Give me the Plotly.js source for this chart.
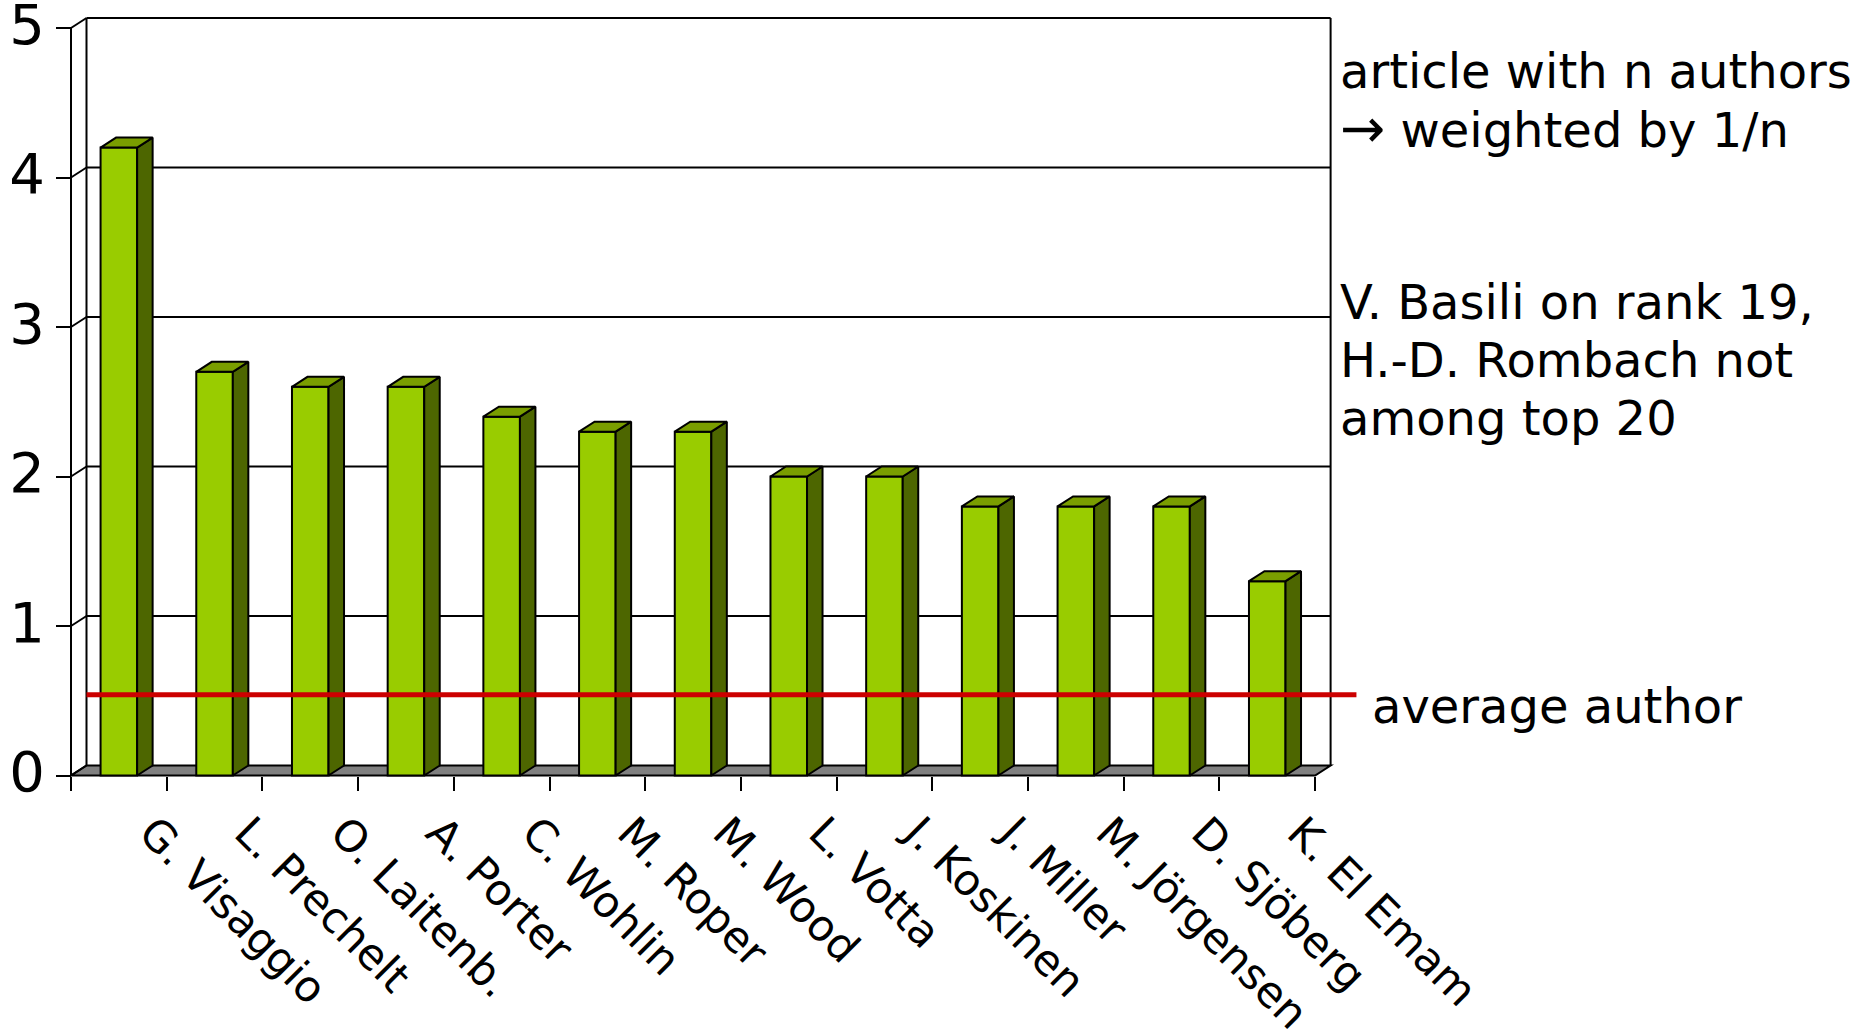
<!DOCTYPE html>
<html>
<head>
<meta charset="utf-8">
<script src="https://cdn.plot.ly/plotly-3.0.1.min.js"></script>
<style>
  html, body { margin: 0; padding: 0; background: #ffffff; }
  #chart { width: 1859px; height: 1036px; }
</style>
</head>
<body>
<div id="chart"></div>
<script>
// Publication score per author (articles with n authors weighted by 1/n)
const authors = ['G. Visaggio', 'L. Prechelt', 'O. Laitenb.', 'A. Porter', 'C. Wohlin',
                 'M. Roper', 'M. Wood', 'L. Votta', 'J. Koskinen', 'J. Miller',
                 'M. Jörgensen', 'D. Sjöberg', 'K. El Emam'];
const scores = [4.2, 2.7, 2.6, 2.6, 2.4, 2.3, 2.3, 2.0, 2.0, 1.8, 1.8, 1.8, 1.3];
const yTicks = [0, 1, 2, 3, 4, 5];
const averageAuthor = 0.54;
const averageLabel = 'average author';
const noteTop = ['article with n authors', '<span style="font-size:54px">→</span> weighted by 1/n'];
const noteMiddle = ['V. Basili on rank 19,', 'H.-D. Rombach not', 'among top 20'];

// ---- geometry of the oblique 3-D box (pixels) ----
const W = 1859, H = 1036;
const FRONT_LEFT_PX = 71, CAT_PX = 95.7;    // front plane: left edge, width of one category
const ZERO_PX = 775.5, UNIT_PX = 149.5;     // front plane: pixel row of 0, pixels per unit
const DEPTH_X_PX = 15.5, DEPTH_Y_PX = 10;   // shift from front plane to back wall
const PLOT = { l: 58, r: 1372, t: 8, b: 786 };

const n = authors.length;
const xmin = -0.5 - (FRONT_LEFT_PX - PLOT.l) / CAT_PX;
const xmax = -0.5 + (PLOT.r - FRONT_LEFT_PX) / CAT_PX;
const ymax = (ZERO_PX - PLOT.t) / UNIT_PX;
const ymin = (ZERO_PX - PLOT.b) / UNIT_PX;
const dx = DEPTH_X_PX / CAT_PX;
const dy = DEPTH_Y_PX / UNIT_PX;
const barW = 0.382;
const xL = -0.5, xR = n - 0.5;
const yTop = yTicks[yTicks.length - 1];

const pxToX = px => -0.5 + (px - FRONT_LEFT_PX) / CAT_PX;
const pxToY = px => (ZERO_PX - px) / UNIT_PX;

const BLACK = '#000000';
const FRONT = '#99CC00', SIDE = '#4D6600', TOP = '#7A9E00', FLOOR = '#808080';
const FONT = 'DejaVu Sans, Verdana, sans-serif';

// ---- side and top faces of every column ----
const sideX = [], sideY = [], topX = [], topY = [];
scores.forEach((v, i) => {
  const l = i - barW / 2, r = i + barW / 2;
  sideX.push(r, r + dx, r + dx, r, r, null);
  sideY.push(0, dy, v + dy, v, 0, null);
  topX.push(l, r, r + dx, l + dx, l, null);
  topY.push(v, v, v + dy, v + dy, v, null);
});

const traces = [
  {
    type: 'bar', x: authors.map((_, i) => i), y: scores, width: barW,
    marker: { color: FRONT, line: { color: BLACK, width: 2 } },
    hoverinfo: 'skip'
  },
  {
    type: 'scatter', mode: 'lines', x: sideX, y: sideY, fill: 'toself',
    fillcolor: SIDE, line: { color: BLACK, width: 2 }, hoverinfo: 'skip'
  },
  {
    type: 'scatter', mode: 'lines', x: topX, y: topY, fill: 'toself',
    fillcolor: TOP, line: { color: BLACK, width: 2 }, hoverinfo: 'skip'
  },
  {
    type: 'scatter', mode: 'lines',
    x: [xL + dx, xR + dx + 0.27], y: [averageAuthor, averageAuthor],
    line: { color: '#CC0000', width: 5 }, hoverinfo: 'skip'
  }
];

// ---- box: floor, back wall, left wall, grid ----
const shapes = [];
const seg = (x0, y0, x1, y1, w) => shapes.push({
  type: 'line', xref: 'x', yref: 'y', layer: 'below',
  x0, y0, x1, y1, line: { color: BLACK, width: w }
});
shapes.push({
  type: 'path', xref: 'x', yref: 'y', layer: 'below',
  path: `M ${xL},0 L ${xR},0 L ${xR + dx},${dy} L ${xL + dx},${dy} Z`,
  fillcolor: FLOOR, line: { color: BLACK, width: 2 }
});
yTicks.forEach(t => {
  if (t > 0) seg(xL + dx, t + dy, xR + dx, t + dy, t === yTop ? 2.2 : 1.8);
  seg(xL, t, xL + dx, t + dy, 2);
});
seg(xL + dx, dy, xL + dx, yTop + dy, 2);
seg(xR + dx, dy, xR + dx, yTop + dy, 2);
seg(xL, 0, xL, yTop, 2);

// ---- text notes on the right ----
const note = (text, xpx, ypx) => ({
  text, xref: 'x', yref: 'y', x: pxToX(xpx), y: pxToY(ypx),
  xanchor: 'left', yanchor: 'middle', showarrow: false, align: 'left',
  font: { family: FONT, size: 48, color: BLACK }
});
const annotations = [];
noteTop.forEach((t, k) => annotations.push(note(t, 1338, 70.5 + k * 58)));
noteMiddle.forEach((t, k) => annotations.push(note(t, 1338, 301.5 + k * 58)));
annotations.push(note(averageLabel, 1370, 705.5));

const layout = {
  width: W, height: H,
  margin: { l: PLOT.l, r: W - PLOT.r, t: PLOT.t, b: H - PLOT.b, pad: 0 },
  paper_bgcolor: '#ffffff', plot_bgcolor: 'rgba(0,0,0,0)',
  showlegend: false,
  font: { family: FONT, color: BLACK },
  xaxis: {
    type: 'linear', range: [xmin, xmax], fixedrange: true,
    anchor: 'free', position: (PLOT.b - ZERO_PX) / (PLOT.b - PLOT.t),
    showgrid: false, zeroline: false, showline: false,
    tickmode: 'array', tickvals: authors.map((_, i) => i), ticktext: authors,
    ticks: '', tickangle: 45, tickfont: { family: FONT, size: 43, color: BLACK },
    ticklabelstandoff: 22, ticklabelshift: 33, ticklabeloverflow: 'allow',
    minor: {
      tickmode: 'array', tickvals: authors.map((_, i) => i - 0.5).concat([xR]),
      ticks: 'outside', ticklen: 14, tickwidth: 2, tickcolor: BLACK, showgrid: false
    }
  },
  yaxis: {
    type: 'linear', range: [ymin, ymax], fixedrange: true,
    anchor: 'free', position: (FRONT_LEFT_PX - PLOT.l) / (PLOT.r - PLOT.l),
    showgrid: false, zeroline: false, showline: false,
    tickmode: 'array', tickvals: yTicks,
    ticks: 'outside', ticklen: 15, tickwidth: 2, tickcolor: BLACK,
    ticklabelshift: -4, ticklabeloverflow: 'allow',
    tickfont: { family: FONT, size: 56, color: BLACK }
  },
  shapes, annotations
};

Plotly.newPlot('chart', traces, layout, { displayModeBar: false, staticPlot: true });
</script>
</body>
</html>
